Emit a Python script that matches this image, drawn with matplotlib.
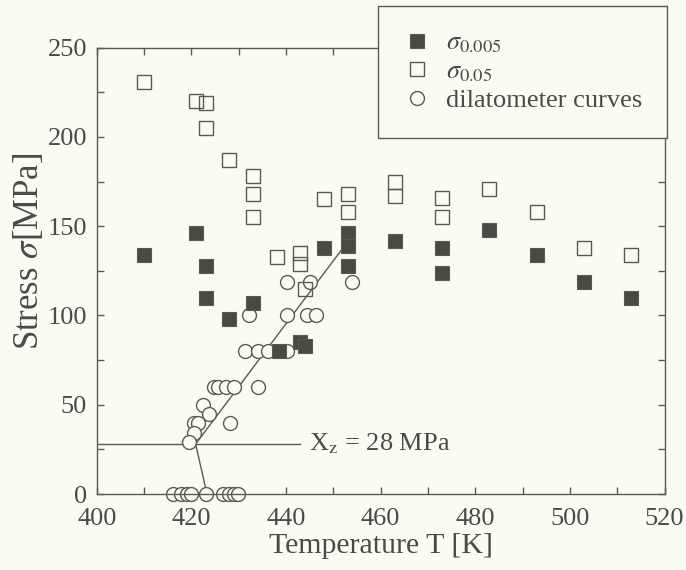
import matplotlib
matplotlib.use("Agg")
import matplotlib.pyplot as plt
from matplotlib.ticker import MultipleLocator

plt.rcParams['font.family'] = ['Liberation Serif', 'DejaVu Serif']
plt.rcParams['mathtext.fontset'] = 'stix'

# sigma_0.005 (filled squares)
T_s005 = [410, 421, 423, 423, 428, 433, 438.5, 443, 444, 448, 453, 453, 453, 463, 473, 473, 483, 493, 503, 513]
S_s005 = [134, 146, 128, 110, 98, 107, 80, 85, 83, 138, 146, 139, 128, 142, 138, 124, 148, 134, 119, 110]

# sigma_0.05 (open squares)
T_s05 = [410, 421, 423, 423, 428, 433, 433, 433, 438, 443, 443, 444, 448, 453, 453, 463, 463, 473, 473, 483, 493, 503, 513]
S_s05 = [231, 220, 219, 205, 187, 178, 168, 155, 133, 135, 129, 115, 165, 168, 158, 175, 167, 166, 155, 171, 158, 138, 134]

# dilatometer curves (open circles)
T_dil = [440.3, 445, 454, 432.2, 440.3, 444.5, 446.4, 431.3, 434, 436.3, 440.3,
         424.8, 425.7, 427.3, 429.1, 434, 422.5, 423.8, 420.6, 421.4, 428.2, 420.5, 419.4,
         416.2, 417.8, 419, 419.9, 423.1, 426.6, 428, 429.1, 429.8]
S_dil = [119, 119, 119, 100, 100, 100, 100, 80, 80, 80, 80,
         60, 60, 60, 60, 60, 50, 45, 40, 40, 40, 34, 29,
         0, 0, 0, 0, 0, 0, 0, 0, 0]

# fitted line and X_z construction
fit_T = [423.3, 420.9, 453.5]
fit_S = [0, 28, 143]
xz_T = [400, 443]
xz_S = [28, 28]
xz_label = r'X$_\mathrm{z}$ = 28 MPa'

bg = '#fbfbf3'
txt = '#4a4a4a'
edge = '#5a5a55'
fill = '#4a4a44'

fig = plt.figure(figsize=(6.86, 5.70), dpi=100, facecolor=bg)
ax = fig.add_axes([0.1410, 0.1333, 0.8277, 0.7830], facecolor=bg)

ax.plot(xz_T, xz_S, color=edge, lw=1.0, zorder=1)
ax.plot(fit_T, fit_S, color=edge, lw=1.0, zorder=1)

ms = 10
h1, = ax.plot(T_s005, S_s005, 's', ms=ms, mfc=fill, mec=edge, mew=0.8, ls='none',
              label=r'$\sigma_{\mathrm{0.005}}$', zorder=3)
h2, = ax.plot(T_s05, S_s05, 's', ms=ms, mfc='none', mec=edge, mew=1.0, ls='none',
              label=r'$\sigma_{\mathrm{0.05}}$', zorder=3)
h3, = ax.plot(T_dil, S_dil, 'o', ms=ms, mfc=bg, mec=edge, mew=1.0, ls='none',
              label='dilatometer curves', zorder=2, clip_on=False)

ax.text(444.8, 28, xz_label, fontsize=19, color=txt, va='center', ha='left')

ax.set_xlim(400, 520)
ax.set_ylim(0, 250)
ax.xaxis.set_major_locator(MultipleLocator(20))
ax.xaxis.set_minor_locator(MultipleLocator(10))
ax.yaxis.set_major_locator(MultipleLocator(50))
ax.yaxis.set_minor_locator(MultipleLocator(25))
ax.tick_params(which='both', direction='in', top=True, right=True, colors=edge,
               labelcolor=txt, labelsize=19, length=5, width=1.0)
ax.tick_params(axis='x', pad=10)
ax.tick_params(axis='y', pad=7)
for s in ax.spines.values():
    s.set_color(edge)
    s.set_linewidth(1.0)

ax.set_xlabel('Temperature T [K]', fontsize=21.5, color=txt, labelpad=2)
ax.set_ylabel(r'Stress $\sigma$[MPa]', fontsize=25, color=txt, labelpad=6)
ax.yaxis.set_label_coords(-0.09, 0.543)

leg = ax.legend(handles=[h1, h2, h3], loc='upper right',
                bbox_to_anchor=(0.9723, 0.989), bbox_transform=fig.transFigure,
                borderaxespad=0, fontsize=19, frameon=True, fancybox=False,
                framealpha=1, facecolor=bg, edgecolor=edge, handletextpad=0.6,
                labelspacing=0.18, borderpad=0.95, handlelength=1.0, labelcolor=txt)
leg.get_frame().set_linewidth(1.0)
leg.set_zorder(10)

fig.savefig('out.png', dpi=100, facecolor=bg)
